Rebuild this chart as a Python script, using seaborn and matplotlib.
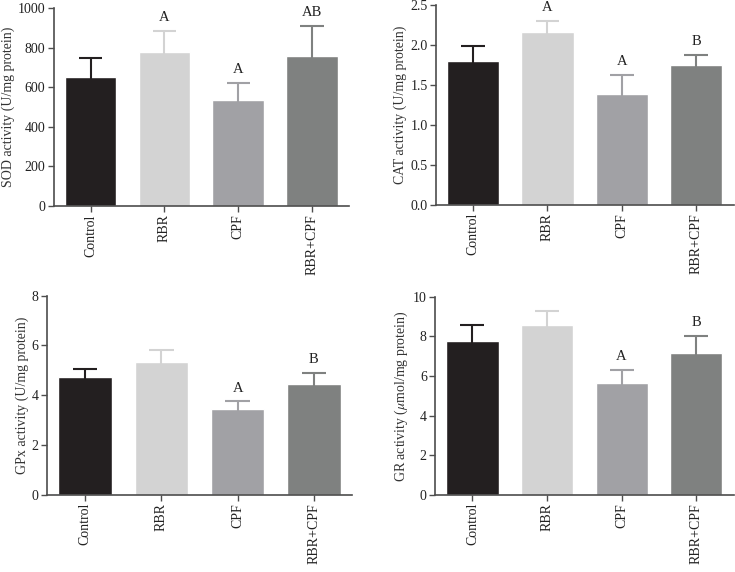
import numpy as np
import pandas as pd
import matplotlib.pyplot as plt
import seaborn as sns

groups = ["Control", "RBR", "CPF", "RBR+CPF"]
colors = ["#231f20", "#d3d3d3", "#a1a1a5", "#7f8180"]

sod_mean = [650, 778, 533, 760]
sod_err = [95, 108, 87, 150]
sod_marks = ["", "A", "A", "AB"]

cat_mean = [1.80, 2.16, 1.39, 1.75]
cat_err = [0.19, 0.14, 0.24, 0.13]
cat_marks = ["", "A", "A", "B"]

gpx_mean = [4.75, 5.35, 3.45, 4.45]
gpx_err = [0.32, 0.48, 0.30, 0.45]
gpx_marks = ["", "", "A", "B"]

gr_mean = [7.75, 8.58, 5.67, 7.18]
gr_err = [0.82, 0.69, 0.66, 0.84]
gr_marks = ["", "", "A", "B"]

panels = [
    ("SOD activity (U/mg protein)", sod_mean, sod_err, sod_marks, 1000, 200, "{:.0f}"),
    ("CAT activity (U/mg protein)", cat_mean, cat_err, cat_marks, 2.5, 0.5, "{:.1f}"),
    ("GPx activity (U/mg protein)", gpx_mean, gpx_err, gpx_marks, 8, 2, "{:.0f}"),
    ("GR activity ($\\mu$mol/mg protein)", gr_mean, gr_err, gr_marks, 10, 2, "{:.0f}"),
]

# axes boxes in figure fraction: left, bottom, width, height
boxes = [
    [0.073, 0.640, 0.402, 0.346],
    [0.593, 0.642, 0.405, 0.349],
    [0.064, 0.135, 0.415, 0.348],
    [0.592, 0.135, 0.406, 0.346],
]

sns.set_style("ticks")
plt.rcParams["font.family"] = ["Liberation Serif", "DejaVu Serif"]
plt.rcParams["mathtext.fontset"] = "stix"

fig = plt.figure(figsize=(7.35, 5.72), dpi=100)

for (ylabel, mean, err, marks, ymax, step, fmt), box in zip(panels, boxes):
    ax = fig.add_axes(box)
    df = pd.DataFrame({"group": groups, "value": mean})
    sns.barplot(data=df, x="group", y="value", hue="group", order=groups,
                palette=colors, width=0.7, legend=False, ax=ax, saturation=1)
    for i, (m, e) in enumerate(zip(mean, err)):
        # upper-only error bar with cap, same colour as its bar
        ax.vlines(i, m * 0.97, m + e, color=colors[i], linewidth=1.5)
        ax.hlines(m + e, i - 0.16, i + 0.16, color=colors[i], linewidth=1.5)
        if marks[i]:
            ax.text(i, m + e + ymax * 0.035, marks[i], ha="center", va="bottom",
                    fontsize=10.5, color="#222222")
    ax.set_xlim(-0.5, 3.5)
    ax.set_ylim(0, ymax)
    ticks = np.arange(0, ymax + step / 2, step)
    ax.set_yticks(ticks)
    ax.set_yticklabels([fmt.format(t) for t in ticks], fontsize=10)
    ax.set_xticks(range(len(groups)))
    ax.set_xticklabels(groups, rotation=90, fontsize=10)
    ax.set_xlabel("")
    ax.set_ylabel(ylabel, fontsize=10, labelpad=2, color="#333333")
    sns.despine(ax=ax)
    for s in ["left", "bottom"]:
        ax.spines[s].set_color("#4d4d4d")
        ax.spines[s].set_linewidth(1.2)
    ax.tick_params(colors="#4d4d4d", labelcolor="#222222", length=4, width=1.0, pad=2)

fig.savefig("out.png", dpi=100)
